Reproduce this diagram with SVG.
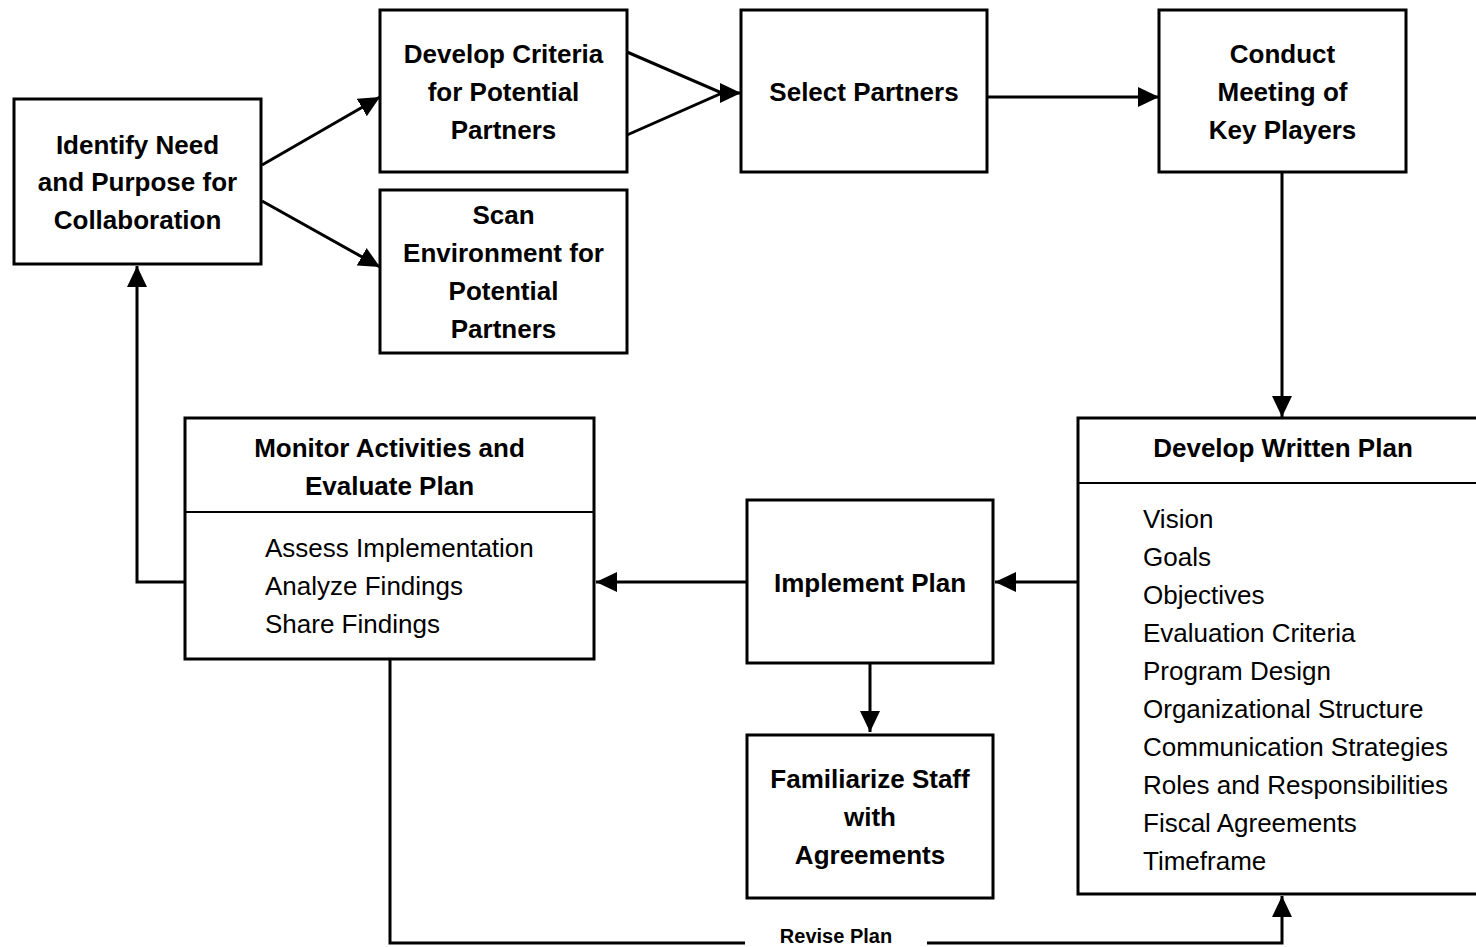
<svg xmlns="http://www.w3.org/2000/svg" width="1476" height="947" viewBox="0 0 1476 947">
  <defs>
    <style>
      .box { fill: #ffffff; stroke: #000000; stroke-width: 3; }
      .div { stroke: #000000; stroke-width: 2; fill: none; }
      .con { stroke: #000000; stroke-width: 3; fill: none; }
      .b { font-family: "Liberation Sans", Arial, sans-serif; font-weight: bold; font-size: 26px; text-anchor: middle; fill: #000; }
      .r { font-family: "Liberation Sans", Arial, sans-serif; font-size: 26px; fill: #000; }
      .lbl { font-family: "Liberation Sans", Arial, sans-serif; font-weight: bold; font-size: 20px; text-anchor: middle; fill: #000; }
    </style>
    <marker id="arrow" markerUnits="userSpaceOnUse" markerWidth="22" markerHeight="22" refX="21" refY="10" orient="auto" viewBox="0 0 22 20">
      <path d="M0,0 L21,10 L0,20 z" fill="#000000"/>
    </marker>
  </defs>
  <rect width="1476" height="947" fill="#ffffff"/>

  <g id="connectors">
    <line class="con" x1="262" y1="165" x2="380" y2="97" marker-end="url(#arrow)"/>
    <line class="con" x1="262" y1="201" x2="380" y2="267" marker-end="url(#arrow)"/>
    <polyline class="con" points="627,52 722,93 627,135"/>
    <line class="con" x1="718" y1="93" x2="741" y2="93" marker-end="url(#arrow)"/>
    <line class="con" x1="987" y1="97" x2="1159" y2="97" marker-end="url(#arrow)"/>
    <line class="con" x1="1282" y1="173" x2="1282" y2="417" marker-end="url(#arrow)"/>
    <line class="con" x1="1078" y1="582" x2="995" y2="582" marker-end="url(#arrow)"/>
    <line class="con" x1="747" y1="582" x2="596" y2="582" marker-end="url(#arrow)"/>
    <line class="con" x1="870" y1="663" x2="870" y2="732" marker-end="url(#arrow)"/>
    <polyline class="con" points="185,582 137,582 137,266" marker-end="url(#arrow)"/>
    <polyline class="con" points="745,943 390,943 390,659"/>
    <polyline class="con" points="927,943 1282,943 1282,896" marker-end="url(#arrow)"/>
    <text class="lbl" x="836" y="943">Revise Plan</text>
  </g>

  <g id="identify">
    <rect class="box" x="14" y="99" width="247" height="165"/>
    <text class="b" x="137.5" y="154">Identify Need</text>
    <text class="b" x="137.5" y="191">and Purpose for</text>
    <text class="b" x="137.5" y="229">Collaboration</text>
  </g>

  <g id="criteria">
    <rect class="box" x="380" y="10" width="247" height="162"/>
    <text class="b" x="503.5" y="63">Develop Criteria</text>
    <text class="b" x="503.5" y="101">for Potential</text>
    <text class="b" x="503.5" y="139">Partners</text>
  </g>

  <g id="scan">
    <rect class="box" x="380" y="190" width="247" height="163"/>
    <text class="b" x="503.5" y="224">Scan</text>
    <text class="b" x="503.5" y="262">Environment for</text>
    <text class="b" x="503.5" y="300">Potential</text>
    <text class="b" x="503.5" y="338">Partners</text>
  </g>

  <g id="select">
    <rect class="box" x="741" y="10" width="246" height="162"/>
    <text class="b" x="864" y="101">Select Partners</text>
  </g>

  <g id="conduct">
    <rect class="box" x="1159" y="10" width="247" height="162"/>
    <text class="b" x="1282.5" y="63">Conduct</text>
    <text class="b" x="1282.5" y="101">Meeting of</text>
    <text class="b" x="1282.5" y="139">Key Players</text>
  </g>

  <g id="written-plan">
    <rect class="box" x="1078" y="418" width="410" height="476"/>
    <line class="div" x1="1078" y1="483" x2="1488" y2="483"/>
    <text class="b" x="1283" y="457">Develop Written Plan</text>
    <text class="r" x="1143" y="528">Vision</text>
    <text class="r" x="1143" y="566">Goals</text>
    <text class="r" x="1143" y="604">Objectives</text>
    <text class="r" x="1143" y="642">Evaluation Criteria</text>
    <text class="r" x="1143" y="680">Program Design</text>
    <text class="r" x="1143" y="718">Organizational Structure</text>
    <text class="r" x="1143" y="756">Communication Strategies</text>
    <text class="r" x="1143" y="794">Roles and Responsibilities</text>
    <text class="r" x="1143" y="832">Fiscal Agreements</text>
    <text class="r" x="1143" y="870">Timeframe</text>
  </g>

  <g id="implement">
    <rect class="box" x="747" y="500" width="246" height="163"/>
    <text class="b" x="870" y="592">Implement Plan</text>
  </g>

  <g id="familiarize">
    <rect class="box" x="747" y="735" width="246" height="163"/>
    <text class="b" x="870" y="788">Familiarize Staff</text>
    <text class="b" x="870" y="826">with</text>
    <text class="b" x="870" y="864">Agreements</text>
  </g>

  <g id="monitor">
    <rect class="box" x="185" y="418" width="409" height="241"/>
    <line class="div" x1="185" y1="512" x2="594" y2="512"/>
    <text class="b" x="389.5" y="457">Monitor Activities and</text>
    <text class="b" x="389.5" y="495">Evaluate Plan</text>
    <text class="r" x="265" y="557">Assess Implementation</text>
    <text class="r" x="265" y="595">Analyze Findings</text>
    <text class="r" x="265" y="633">Share Findings</text>
  </g>
</svg>
